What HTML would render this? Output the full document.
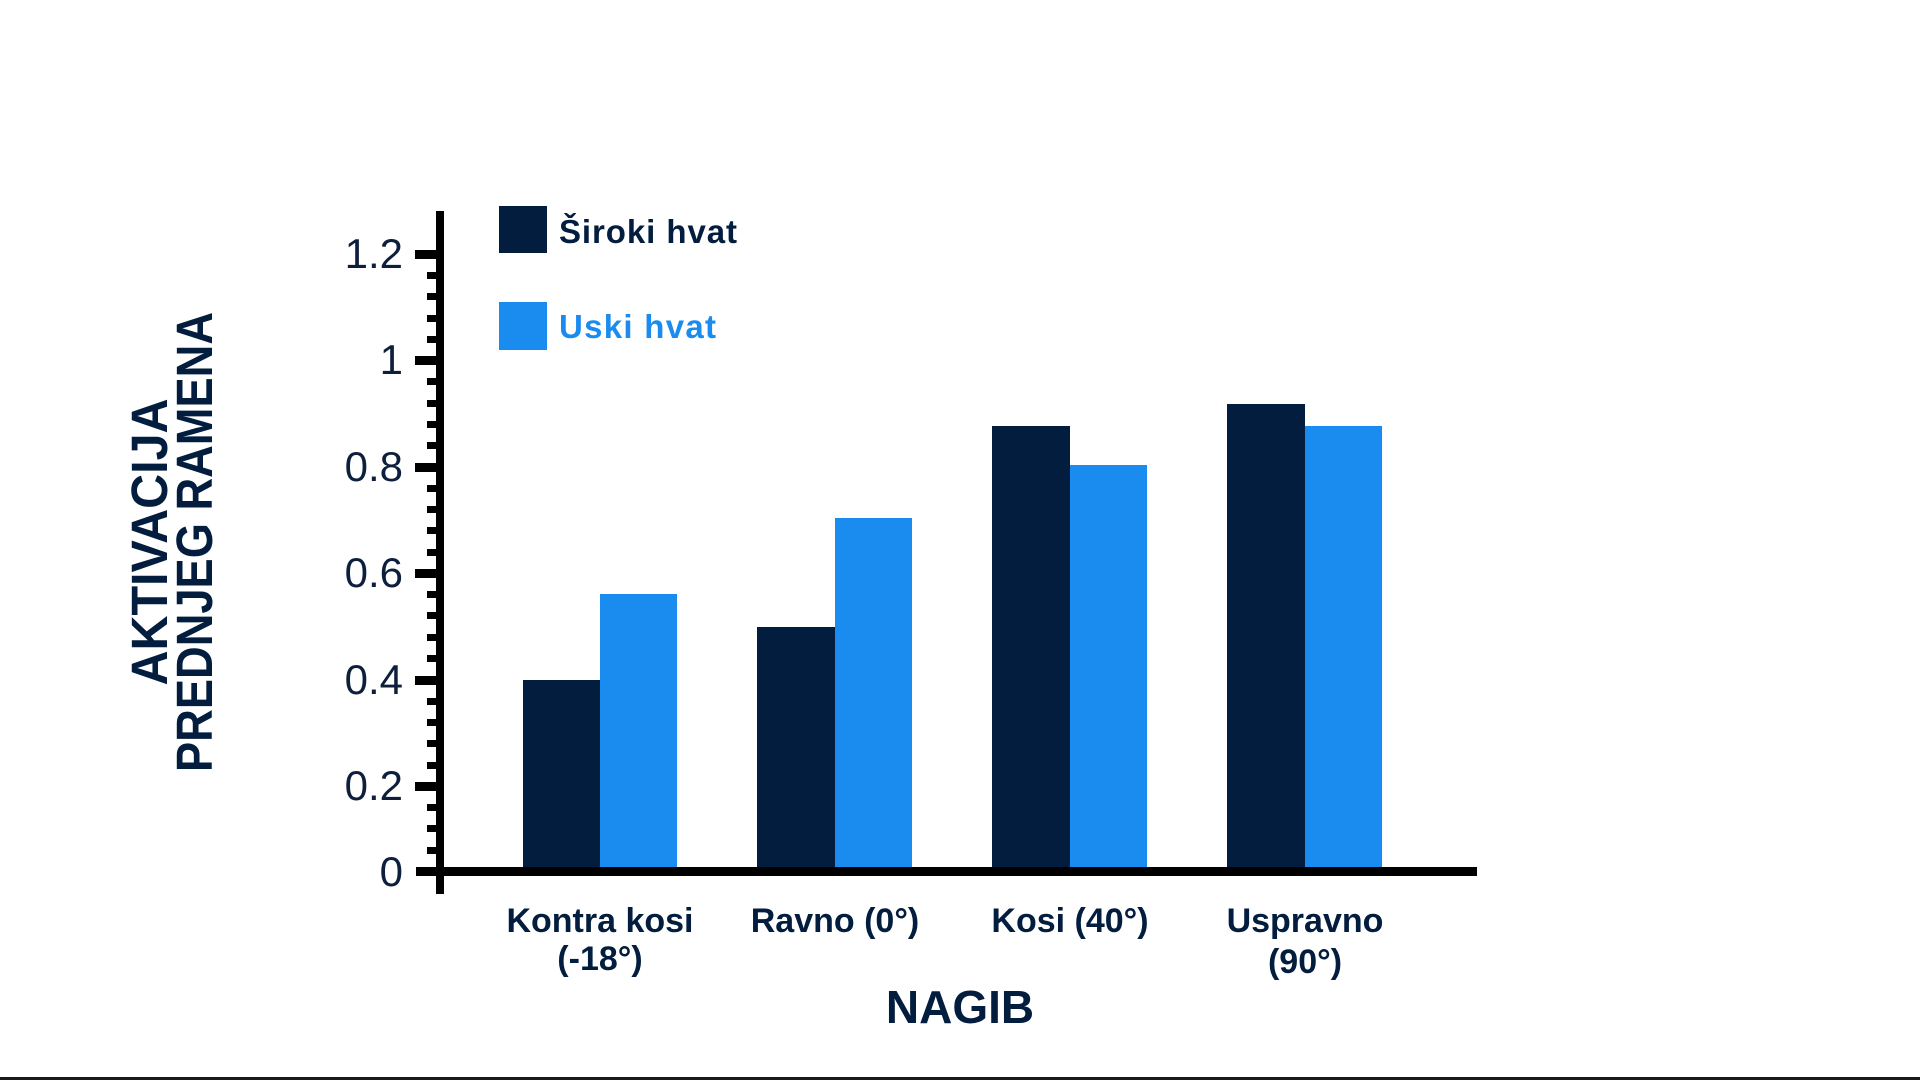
<!DOCTYPE html>
<html><head><meta charset="utf-8"><style>
html,body{margin:0;padding:0;background:#fff;}
svg{display:block;}
text{font-family:"Liberation Sans",sans-serif;}
</style></head><body>
<svg width="1920" height="1080" viewBox="0 0 1920 1080" xmlns="http://www.w3.org/2000/svg">
<rect width="1920" height="1080" fill="#fff"/>
<g fill="#000">
<rect x="427" y="272" width="13" height="7"/><rect x="427" y="293" width="13" height="7"/><rect x="427" y="315" width="13" height="7"/><rect x="427" y="336" width="13" height="7"/>
<rect x="427" y="378" width="13" height="7"/><rect x="427" y="400" width="13" height="7"/><rect x="427" y="421" width="13" height="7"/><rect x="427" y="442" width="13" height="7"/>
<rect x="427" y="485" width="13" height="7"/><rect x="427" y="506" width="13" height="7"/><rect x="427" y="527" width="13" height="7"/><rect x="427" y="549" width="13" height="7"/>
<rect x="427" y="591" width="13" height="7"/><rect x="427" y="612" width="13" height="7"/><rect x="427" y="634" width="13" height="7"/><rect x="427" y="655" width="13" height="7"/>
<rect x="427" y="698" width="13" height="7"/><rect x="427" y="719" width="13" height="7"/><rect x="427" y="740" width="13" height="7"/><rect x="427" y="762" width="13" height="7"/>
<rect x="427" y="804" width="13" height="7"/><rect x="427" y="825" width="13" height="7"/><rect x="427" y="847" width="13" height="7"/>
<rect x="415" y="250" width="25" height="9"/><rect x="415" y="356" width="25" height="9"/><rect x="415" y="463" width="25" height="9"/>
<rect x="415" y="569" width="25" height="9"/><rect x="415" y="676" width="25" height="9"/><rect x="415" y="782" width="25" height="9"/>
<rect x="416" y="867" width="25" height="9"/>
</g>
<g>
<rect x="523" y="680" width="77" height="190" fill="#021d3d"/><rect x="600" y="594" width="77" height="276" fill="#1a8cf0"/>
<rect x="757" y="627" width="78" height="243" fill="#021d3d"/><rect x="835" y="518" width="77" height="352" fill="#1a8cf0"/>
<rect x="992" y="426" width="78" height="444" fill="#021d3d"/><rect x="1070" y="465" width="77" height="405" fill="#1a8cf0"/>
<rect x="1227" y="404" width="78" height="466" fill="#021d3d"/><rect x="1305" y="426" width="77" height="444" fill="#1a8cf0"/>
</g>
<rect x="436" y="211" width="8" height="683" fill="#000"/>
<rect x="416" y="867" width="1061" height="9" fill="#000"/>
<g fill="#0d1f3c" font-size="42" text-anchor="end">
<text x="403" y="268">1.2</text><text x="403" y="374">1</text><text x="403" y="481">0.8</text>
<text x="403" y="587">0.6</text><text x="403" y="694">0.4</text><text x="403" y="800">0.2</text><text x="403" y="886">0</text>
</g>
<rect x="499" y="206" width="48" height="47" fill="#021d3d"/>
<rect x="499" y="302" width="48" height="48" fill="#1a8cf0"/>
<text x="559" y="243" font-size="33" font-weight="bold" fill="#021d3d" textLength="178">Široki hvat</text>
<text x="559" y="338" font-size="33" font-weight="bold" fill="#1a8cf0" textLength="157">Uski hvat</text>
<g font-size="34" font-weight="bold" fill="#021d3d" text-anchor="middle">
<text x="600" y="932">Kontra kosi</text><text x="600" y="970">(-18°)</text>
<text x="835" y="932">Ravno (0°)</text>
<text x="1070" y="932">Kosi (40°)</text>
<text x="1305" y="932">Uspravno</text><text x="1305" y="973">(90°)</text>
</g>
<text x="960" y="1023" font-size="46" font-weight="bold" fill="#021d3d" text-anchor="middle">NAGIB</text>
<g font-size="51" font-weight="bold" fill="#021d3d" text-anchor="middle">
<text transform="translate(167,542) rotate(-90)" textLength="287" lengthAdjust="spacingAndGlyphs">AKTIVACIJA</text>
<text transform="translate(212,542) rotate(-90)" textLength="460" lengthAdjust="spacingAndGlyphs">PREDNJEG RAMENA</text>
</g>
<rect x="0" y="1077" width="1920" height="3" fill="#1a1a1a"/>
</svg>
</body></html>
